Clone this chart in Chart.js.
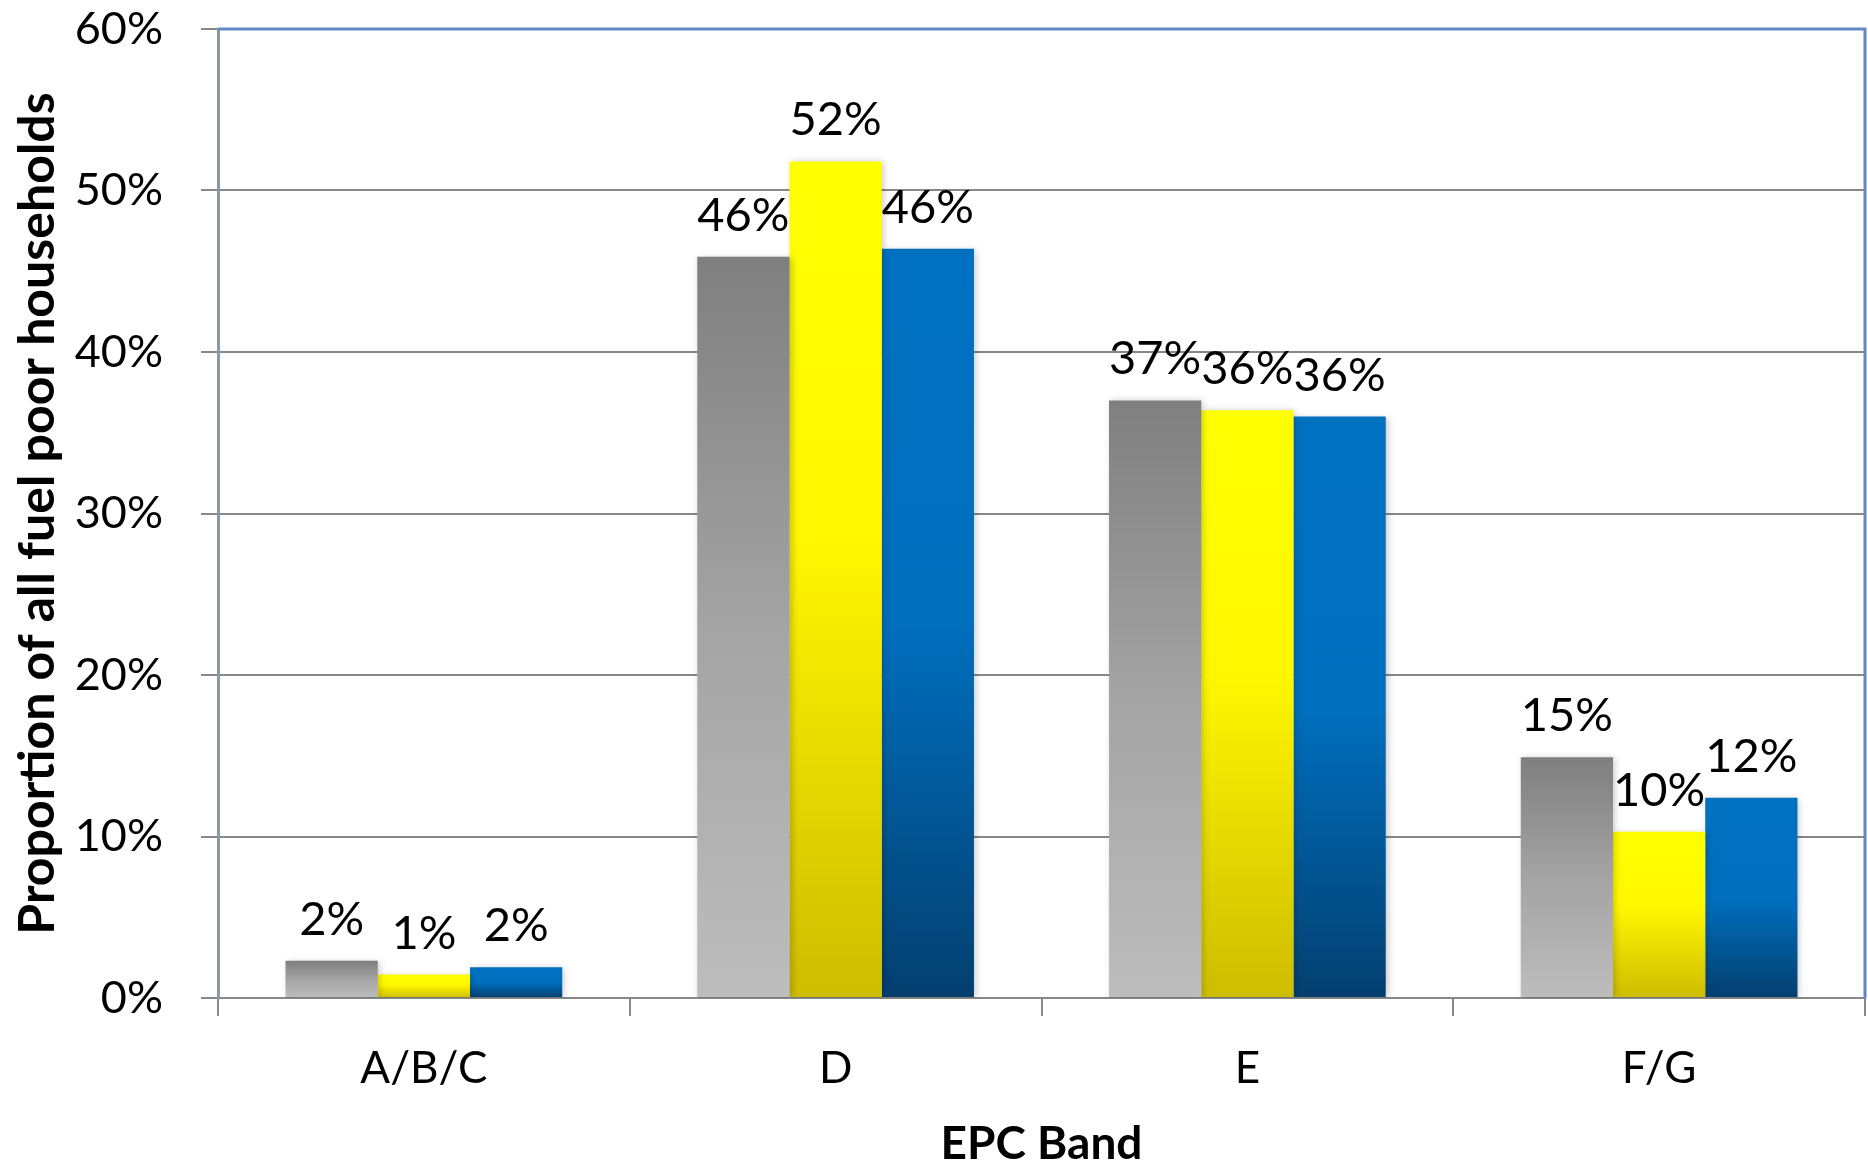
<!DOCTYPE html>
<html>
<head>
<meta charset="utf-8">
<title>Fuel poor households by EPC band</title>
<script src="https://cdn.jsdelivr.net/npm/chart.js@4.4.1/dist/chart.umd.min.js"></script>
<style>
  html, body { margin: 0; padding: 0; background: #ffffff; overflow: hidden; }
  #wrap { width: 1868px; height: 1163px; }
</style>
</head>
<body>
<div id="wrap"><canvas id="chart" width="1868" height="1163"></canvas></div>
<script>
// EPC bands on the x axis
const categories = ['A/B/C', 'D', 'E', 'F/G'];

// Share of all fuel poor households (%) in each band, one array per series
const seriesGrey   = [2.3, 45.9, 37.0, 14.9];
const seriesYellow = [1.45, 51.8, 36.4, 10.3];
const seriesBlue   = [1.9, 46.4, 36.0, 12.4];

// Value axis tick labels (0% to 60% in steps of 10)
const yTickLabels = ['0%', '10%', '20%', '30%', '40%', '50%', '60%'];

const axisTitleY = 'Proportion of all fuel poor households';
const axisTitleX = 'EPC Band';

// Vertical gradient fill per bar, from its top down to the zero line
function barGradient(stops) {
  return (ctx) => {
    const chart = ctx.chart;
    const { chartArea, scales } = chart;
    if (!chartArea || !scales.y || ctx.type !== 'data') return stops[0][1];
    const v = ctx.dataset.data[ctx.dataIndex];
    const top = scales.y.getPixelForValue(v);
    const base = scales.y.getPixelForValue(0);
    if (!(base > top)) return stops[0][1];
    const g = chart.ctx.createLinearGradient(0, top, 0, base);
    stops.forEach(([o, c]) => g.addColorStop(o, c));
    return g;
  };
}

// Soft drop shadow under the bars, then value labels above them
const barDecorations = {
  id: 'barDecorations',
  beforeDatasetsDraw(chart) {
    const c = chart.ctx;
    c.save();
    c.shadowColor = 'rgba(0,0,0,0.22)';
    c.shadowBlur = 7;
    c.shadowOffsetX = 2;
    c.shadowOffsetY = 1;
  },
  afterDatasetsDraw(chart) {
    const c = chart.ctx;
    c.restore();
    c.save();
    c.fillStyle = '#000000';
    c.font = '47px Lato';
    c.textAlign = 'center';
    c.textBaseline = 'alphabetic';
    chart.data.datasets.forEach((ds, di) => {
      const meta = chart.getDatasetMeta(di);
      meta.data.forEach((bar, i) => {
        const label = Math.round(ds.data[i]) + '%';
        c.fillText(label, bar.x, bar.y - 26);
      });
    });
    c.restore();
  }
};

// Blue frame along the top and right of the plot area
const plotFrame = {
  id: 'plotFrame',
  afterDraw(chart) {
    const { ctx, chartArea: a } = chart;
    ctx.save();
    ctx.strokeStyle = '#5f89c4';
    ctx.lineWidth = 3;
    ctx.beginPath();
    ctx.moveTo(a.left, a.top);
    ctx.lineTo(a.right, a.top);
    ctx.lineTo(a.right, a.bottom);
    ctx.stroke();
    ctx.restore();
  }
};

new Chart(document.getElementById('chart'), {
  type: 'bar',
  data: {
    labels: categories,
    datasets: [
      {
        label: 'Series 1',
        data: seriesGrey,
        backgroundColor: barGradient([[0, '#7f7f7f'], [0.5, '#a4a4a4'], [1, '#bdbdbd']])
      },
      {
        label: 'Series 2',
        data: seriesYellow,
        backgroundColor: barGradient([[0, '#ffff00'], [0.45, '#fff700'], [1, '#cdbc00']])
      },
      {
        label: 'Series 3',
        data: seriesBlue,
        backgroundColor: barGradient([[0, '#0070c0'], [0.5, '#006fbe'], [1, '#033f6f']])
      }
    ]
  },
  options: {
    responsive: false,
    animation: false,
    devicePixelRatio: 1,
    layout: { padding: { top: 29, right: 3, left: 0, bottom: 0 } },
    datasets: {
      bar: { categoryPercentage: 0.672, barPercentage: 1.0, borderWidth: 0 }
    },
    plugins: {
      legend: { display: false },
      tooltip: { enabled: false },
      title: { display: false }
    },
    scales: {
      x: {
        offset: true,
        afterFit(scale) {
          scale.height = 165;
          scale.paddingLeft = 0;
          scale.paddingRight = 0;
        },
        grid: {
          offset: true,
          drawOnChartArea: false,
          drawTicks: true,
          tickLength: 18,
          color: '#888888',
          lineWidth: 2
        },
        border: { display: true, color: '#888888', width: 2 },
        ticks: {
          color: '#000000',
          padding: 26,
          font: { family: 'Lato', size: 44 }
        },
        title: {
          display: true,
          text: axisTitleX,
          color: '#000000',
          font: { family: 'Lato', size: 46, weight: 'bold', lineHeight: 0.75 },
          padding: { top: 0, bottom: 2 }
        }
      },
      y: {
        min: 0,
        max: 60,
        afterFit(scale) {
          scale.width = 218;
          scale.paddingTop = 0;
          scale.paddingBottom = 0;
        },
        afterBuildTicks(scale) {
          scale.ticks = yTickLabels.map((_, i) => ({ value: i * 10 }));
        },
        grid: {
          color: '#878787',
          lineWidth: 2,
          drawTicks: true,
          tickLength: 17
        },
        border: { display: true, color: '#8c98a8', width: 3 },
        ticks: {
          color: '#000000',
          padding: 38,
          font: { family: 'Lato', size: 45 },
          callback(value, index) { return yTickLabels[index]; }
        },
        title: {
          display: true,
          text: axisTitleY,
          color: '#000000',
          font: { family: 'Lato', size: 50, weight: 'bold', lineHeight: 1.2 },
          padding: { top: 8, bottom: 0 }
        }
      }
    }
  },
  plugins: [barDecorations, plotFrame]
});
</script>
</body>
</html>
